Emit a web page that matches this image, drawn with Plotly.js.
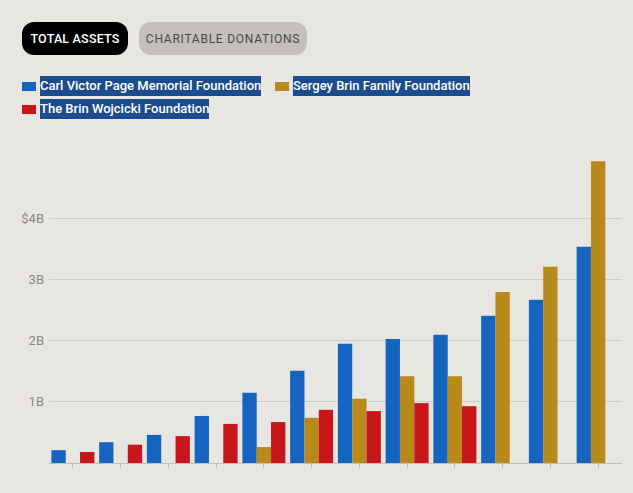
<!DOCTYPE html>
<html>
<head>
<meta charset="utf-8">
<script src="https://cdn.plot.ly/plotly-3.0.1.min.js"></script>
<style>
  html, body { margin:0; padding:0; background:#e8e6e2; width:633px; height:493px; overflow:hidden; font-family: Roboto, "Noto Sans", sans-serif; }
  #chart { position:absolute; left:0; top:0; width:633px; height:493px; }
  .btn { position:absolute; top:22px; height:33px; border-radius:12px; display:flex; align-items:center; justify-content:center; font-size:12.5px; box-sizing:border-box; }
  #b1 { left:22px; width:106px; background:#000; color:#fff; font-weight:500; letter-spacing:0.2px; }
  #b2 { left:139px; width:168px; background:#c4c0bb; color:#4a4846; font-weight:400; font-size:12px; letter-spacing:0.75px; }
  .leg { position:absolute; display:flex; align-items:center; height:20px; }
  .sw { width:14px; height:9px; margin-right:4px; }
  .lt { background:#1b4d8e; color:#fff; font-weight:500; font-size:13px; height:20px; line-height:20px; letter-spacing:0px; white-space:nowrap; }
</style>
</head>
<body>
<div id="chart"></div>
<div class="btn" id="b1">TOTAL ASSETS</div>
<div class="btn" id="b2">CHARITABLE DONATIONS</div>
<div id="legend"></div>
<script>
// Data (billions of USD, total assets)
const categories = ['2004','2005','2006','2007','2008','2009','2010','2011','2012','2013','2014','2015'];
const seriesNames = ['Carl Victor Page Memorial Foundation','Sergey Brin Family Foundation','The Brin Wojcicki Foundation'];
const pageValues = [0.21, 0.34, 0.46, 0.77, 1.15, 1.51, 1.95, 2.03, 2.10, 2.41, 2.67, 3.54];
const brinFamilyValues = [null, null, null, null, 0.26, 0.74, 1.05, 1.42, 1.42, 2.80, 3.21, 4.94];
const brinWojcickiValues = [0.18, 0.30, 0.44, 0.64, 0.67, 0.87, 0.85, 0.98, 0.93, null, null, null];
const yTickVals = [1, 2, 3, 4];
const yTickText = ['1B', '2B', '3B', '$4B'];
const colors = ['#1565c0', '#b8891b', '#c8161b'];

const valuesList = [pageValues, brinFamilyValues, brinWojcickiValues];
const traces = valuesList.map((v, i) => ({
  type: 'bar',
  x: categories,
  y: v,
  name: seriesNames[i],
  marker: { color: colors[i], line: { width: 0 } },
  hoverinfo: 'x+y+name'
}));

const layout = {
  width: 633, height: 493,
  margin: { l: 49, r: 11, t: 140, b: 30, pad: 0 },
  paper_bgcolor: '#e8e6e2',
  plot_bgcolor: '#e8e6e2',
  showlegend: false,
  barmode: 'group',
  bargap: 0.1,
  bargroupgap: 0,
  font: { family: 'Roboto, sans-serif' },
  xaxis: {
    type: 'category',
    showticklabels: false,
    ticks: 'outside', ticklen: 4, tickcolor: '#bcb8b4', tickwidth: 1,
    showline: true, linecolor: '#c2bfbb', linewidth: 1,
    showgrid: false, zeroline: false, fixedrange: true
  },
  yaxis: {
    range: [0, 323 / 61.1],
    tickmode: 'array', tickvals: yTickVals, ticktext: yTickText,
    tickfont: { family: 'Roboto, sans-serif', size: 13, color: '#8c8782' },
    ticks: '', ticklabelstandoff: 4,
    showgrid: true, gridcolor: '#cfccc8', gridwidth: 1,
    zeroline: false, showline: false, fixedrange: true
  }
};

Plotly.newPlot('chart', traces, layout, { displayModeBar: false, staticPlot: true });

// Custom legend built from series names/colors
const legendPos = [[22, 76], [275, 76], [22, 99]];
const legend = document.getElementById('legend');
seriesNames.forEach((n, i) => {
  const d = document.createElement('div');
  d.className = 'leg';
  d.style.left = legendPos[i][0] + 'px';
  d.style.top = legendPos[i][1] + 'px';
  const sw = document.createElement('div');
  sw.className = 'sw';
  sw.style.background = colors[i];
  const t = document.createElement('span');
  t.className = 'lt';
  t.textContent = n;
  d.appendChild(sw); d.appendChild(t);
  legend.appendChild(d);
});
</script>
</body>
</html>
